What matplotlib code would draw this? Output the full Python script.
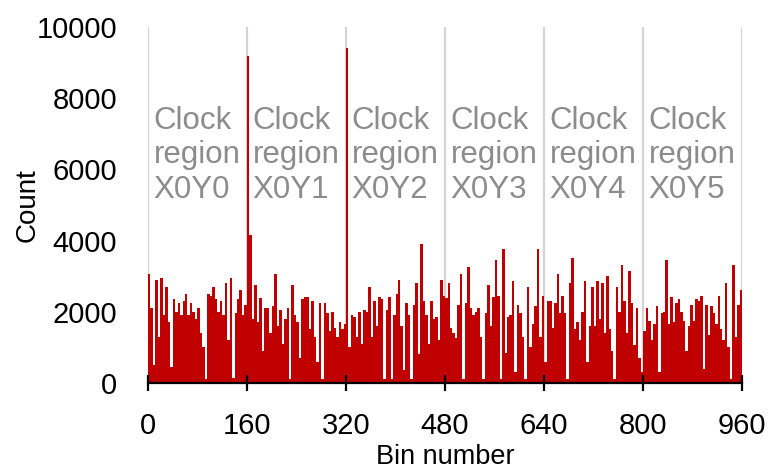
import matplotlib
matplotlib.use("Agg")
import matplotlib.pyplot as plt
import numpy as np

plt.rcParams['font.family'] = ['Liberation Sans', 'DejaVu Sans']

# counts, one value per 4-bin group, 40 groups per clock region
region_x0y0 = [3050, 2100, 500, 2900, 1300, 2950, 1900, 2700, 1700, 450,
               2350, 2000, 2250, 1900, 2300, 2500, 1900, 2250, 2000, 1800,
               2100, 1400, 1000, 100, 2500, 2450, 2700, 2350, 2000, 2300,
               1900, 2800, 1200, 2950, 150, 1950, 2350, 2600, 1900, 2200]
region_x0y1 = [9200, 4150, 1800, 2750, 1700, 2380, 900, 2100, 2100, 1400,
               2150, 3050, 1600, 2050, 1100, 1800, 2100, 100, 2750, 1900,
               1700, 700, 2350, 2400, 2400, 1500, 2300, 1300, 600, 2250,
               100, 2250, 1950, 1450, 2000, 1550, 1300, 1700, 1500, 1650]
region_x0y2 = [9400, 1000, 1900, 1850, 1300, 2000, 1100, 2050, 2000, 2700,
               1300, 2300, 1600, 2400, 2350, 100, 2050, 2400, 100, 1900,
               2500, 2900, 1600, 350, 2250, 1900, 100, 2200, 2800, 800,
               3900, 2300, 1900, 1100, 2300, 1800, 1850, 1200, 2900, 2450]
region_x0y3 = [2380, 2800, 1550, 1400, 1250, 2200, 3050, 100, 2250, 3250,
               2100, 1900, 2000, 2100, 1300, 100, 1950, 2750, 1600, 2400,
               3450, 2450, 100, 3750, 850, 1850, 1900, 2850, 300, 2200,
               1950, 1300, 100, 2700, 1000, 1650, 2150, 3750, 1300, 2450]
region_x0y4 = [600, 2300, 2300, 1550, 2250, 3050, 1950, 2450, 1950, 100,
               2800, 3500, 1500, 1700, 1200, 2000, 2850, 600, 1600, 2700,
               1600, 2850, 1800, 2800, 1400, 3000, 1500, 900, 100, 2700,
               2000, 3300, 2300, 1400, 3150, 2250, 1050, 2100, 700, 300]
region_x0y5 = [1450, 2100, 1750, 1200, 1650, 2150, 300, 1950, 2000, 3450,
               1650, 2400, 1700, 2250, 2350, 2000, 1750, 900, 1600, 2200,
               1750, 2350, 2300, 2450, 400, 2200, 1350, 2150, 1950, 1650,
               2450, 1500, 1200, 2800, 1000, 100, 3300, 1300, 2200, 2600]

region_names = ["X0Y0", "X0Y1", "X0Y2", "X0Y3", "X0Y4", "X0Y5"]
region_edges = [0, 160, 320, 480, 640, 800, 960]
group_size = 4

counts = np.array(region_x0y0 + region_x0y1 + region_x0y2 +
                  region_x0y3 + region_x0y4 + region_x0y5)
bins = np.arange(len(counts)) * group_size

fig = plt.figure(figsize=(7.7, 4.75), dpi=100)
ax = fig.add_axes([0.192, 0.194, 0.772, 0.749])

ax.vlines(region_edges, 0, 10000, color='#d4d4d4', lw=1.6, zorder=0)
ax.bar(bins, counts, width=group_size, align='edge', color='#c00000',
       linewidth=0, zorder=1)

for x0, name in zip(region_edges[:-1], region_names):
    ax.text(x0 + 9, 6400, "Clock\nregion\n" + name, color='#8c8c8c',
            fontsize=22.5, ha='left', va='center', linespacing=1.2)

ax.set_xlim(0, 960)
ax.set_ylim(0, 10000)
ax.set_xticks(region_edges)
ax.set_yticks(range(0, 10001, 2000))

for s in ['top', 'right', 'left']:
    ax.spines[s].set_visible(False)
ax.spines['bottom'].set_linewidth(1.6)
ax.spines['bottom'].set_zorder(3)

ax.tick_params(axis='x', direction='inout', length=12, width=1.6,
               labelsize=21, pad=15)
ax.tick_params(axis='y', length=0, labelsize=21, pad=22)

ax.set_xlabel("Bin number", fontsize=19.5, labelpad=3)
ax.set_ylabel("Count", fontsize=20, labelpad=-3)

fig.savefig("out.png", dpi=100)
